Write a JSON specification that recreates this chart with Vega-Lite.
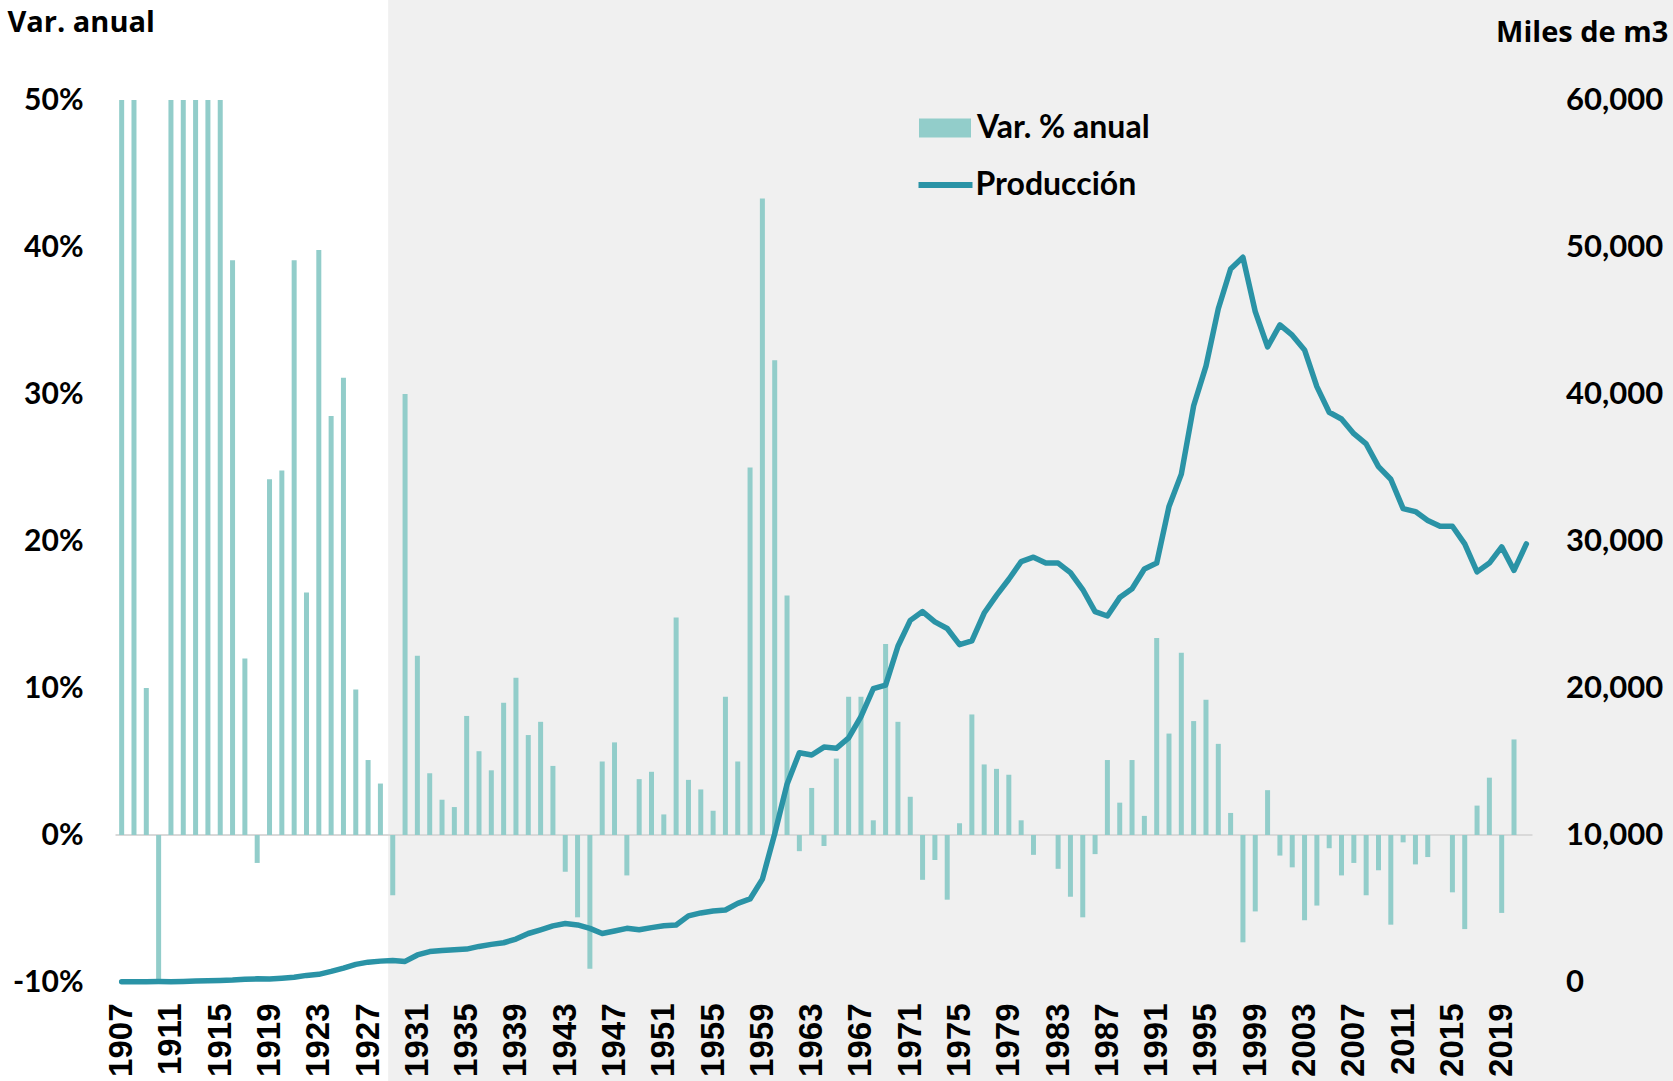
{
  "$schema": "https://vega.github.io/schema/vega-lite/v6.json",
  "width": 1417,
  "height": 882,
  "autosize": {"type": "none"},
  "padding": {"left": 115.5, "top": 100, "right": 140.5, "bottom": 99},
  "background": "#ffffff",
  "config": {
    "view": {"stroke": null},
    "legend": {"padding": 0, "labelLimit": 0}
  },
  "datasets": {
    "periodo": [{"inicio": 1928.63, "fin": 2040}],
    "variacion": [
      {"anio": 1907, "var": 50}, {"anio": 1908, "var": 50}, {"anio": 1909, "var": 10.0}, {"anio": 1910, "var": -9.9},
      {"anio": 1911, "var": 50}, {"anio": 1912, "var": 50}, {"anio": 1913, "var": 50}, {"anio": 1914, "var": 50},
      {"anio": 1915, "var": 50}, {"anio": 1916, "var": 39.1}, {"anio": 1917, "var": 12.0}, {"anio": 1918, "var": -1.9},
      {"anio": 1919, "var": 24.2}, {"anio": 1920, "var": 24.8}, {"anio": 1921, "var": 39.1}, {"anio": 1922, "var": 16.5},
      {"anio": 1923, "var": 39.8}, {"anio": 1924, "var": 28.5}, {"anio": 1925, "var": 31.1}, {"anio": 1926, "var": 9.9},
      {"anio": 1927, "var": 5.1}, {"anio": 1928, "var": 3.5}, {"anio": 1929, "var": -4.1}, {"anio": 1930, "var": 30.0},
      {"anio": 1931, "var": 12.2}, {"anio": 1932, "var": 4.2}, {"anio": 1933, "var": 2.4}, {"anio": 1934, "var": 1.9},
      {"anio": 1935, "var": 8.1}, {"anio": 1936, "var": 5.7}, {"anio": 1937, "var": 4.4}, {"anio": 1938, "var": 9.0},
      {"anio": 1939, "var": 10.7}, {"anio": 1940, "var": 6.8}, {"anio": 1941, "var": 7.7}, {"anio": 1942, "var": 4.7},
      {"anio": 1943, "var": -2.5}, {"anio": 1944, "var": -5.6}, {"anio": 1945, "var": -9.1}, {"anio": 1946, "var": 5.0},
      {"anio": 1947, "var": 6.3}, {"anio": 1948, "var": -2.75}, {"anio": 1949, "var": 3.8}, {"anio": 1950, "var": 4.3},
      {"anio": 1951, "var": 1.4}, {"anio": 1952, "var": 14.8}, {"anio": 1953, "var": 3.75}, {"anio": 1954, "var": 3.1},
      {"anio": 1955, "var": 1.65}, {"anio": 1956, "var": 9.4}, {"anio": 1957, "var": 5.0}, {"anio": 1958, "var": 25.0},
      {"anio": 1959, "var": 43.3}, {"anio": 1960, "var": 32.3}, {"anio": 1961, "var": 16.3}, {"anio": 1962, "var": -1.1},
      {"anio": 1963, "var": 3.2}, {"anio": 1964, "var": -0.75}, {"anio": 1965, "var": 5.2}, {"anio": 1966, "var": 9.4},
      {"anio": 1967, "var": 9.4}, {"anio": 1968, "var": 1.0}, {"anio": 1969, "var": 13.0}, {"anio": 1970, "var": 7.7},
      {"anio": 1971, "var": 2.6}, {"anio": 1972, "var": -3.05}, {"anio": 1973, "var": -1.7}, {"anio": 1974, "var": -4.4},
      {"anio": 1975, "var": 0.8}, {"anio": 1976, "var": 8.2}, {"anio": 1977, "var": 4.8}, {"anio": 1978, "var": 4.5},
      {"anio": 1979, "var": 4.1}, {"anio": 1980, "var": 1.0}, {"anio": 1981, "var": -1.35}, {"anio": 1982, "var": 0.0},
      {"anio": 1983, "var": -2.3}, {"anio": 1984, "var": -4.2}, {"anio": 1985, "var": -5.6}, {"anio": 1986, "var": -1.3},
      {"anio": 1987, "var": 5.1}, {"anio": 1988, "var": 2.2}, {"anio": 1989, "var": 5.1}, {"anio": 1990, "var": 1.3},
      {"anio": 1991, "var": 13.4}, {"anio": 1992, "var": 6.9}, {"anio": 1993, "var": 12.4}, {"anio": 1994, "var": 7.75},
      {"anio": 1995, "var": 9.2}, {"anio": 1996, "var": 6.2}, {"anio": 1997, "var": 1.5}, {"anio": 1998, "var": -7.3},
      {"anio": 1999, "var": -5.2}, {"anio": 2000, "var": 3.05}, {"anio": 2001, "var": -1.4}, {"anio": 2002, "var": -2.2},
      {"anio": 2003, "var": -5.8}, {"anio": 2004, "var": -4.8}, {"anio": 2005, "var": -0.9}, {"anio": 2006, "var": -2.75},
      {"anio": 2007, "var": -1.9}, {"anio": 2008, "var": -4.1}, {"anio": 2009, "var": -2.4}, {"anio": 2010, "var": -6.1},
      {"anio": 2011, "var": -0.5}, {"anio": 2012, "var": -2.0}, {"anio": 2013, "var": -1.5}, {"anio": 2014, "var": 0.0},
      {"anio": 2015, "var": -3.9}, {"anio": 2016, "var": -6.4}, {"anio": 2017, "var": 2.0}, {"anio": 2018, "var": 3.9},
      {"anio": 2019, "var": -5.3}, {"anio": 2020, "var": 6.5}
    ],
    "produccion": [
      {"anio": 1907, "prod": 10}, {"anio": 1908, "prod": 15}, {"anio": 1909, "prod": 25}, {"anio": 1910, "prod": 28},
      {"anio": 1911, "prod": 25}, {"anio": 1912, "prod": 40}, {"anio": 1913, "prod": 60}, {"anio": 1914, "prod": 85},
      {"anio": 1915, "prod": 110}, {"anio": 1916, "prod": 140}, {"anio": 1917, "prod": 190}, {"anio": 1918, "prod": 214},
      {"anio": 1919, "prod": 210}, {"anio": 1920, "prod": 260}, {"anio": 1921, "prod": 320}, {"anio": 1922, "prod": 450},
      {"anio": 1923, "prod": 520}, {"anio": 1924, "prod": 720}, {"anio": 1925, "prod": 940}, {"anio": 1926, "prod": 1200},
      {"anio": 1927, "prod": 1350}, {"anio": 1928, "prod": 1420}, {"anio": 1929, "prod": 1470}, {"anio": 1930, "prod": 1400},
      {"anio": 1931, "prod": 1840}, {"anio": 1932, "prod": 2070}, {"anio": 1933, "prod": 2150}, {"anio": 1934, "prod": 2200},
      {"anio": 1935, "prod": 2240}, {"anio": 1936, "prod": 2420}, {"anio": 1937, "prod": 2560}, {"anio": 1938, "prod": 2670},
      {"anio": 1939, "prod": 2920}, {"anio": 1940, "prod": 3300}, {"anio": 1941, "prod": 3550}, {"anio": 1942, "prod": 3820},
      {"anio": 1943, "prod": 3980}, {"anio": 1944, "prod": 3880}, {"anio": 1945, "prod": 3650}, {"anio": 1946, "prod": 3300},
      {"anio": 1947, "prod": 3470}, {"anio": 1948, "prod": 3650}, {"anio": 1949, "prod": 3550}, {"anio": 1950, "prod": 3700},
      {"anio": 1951, "prod": 3830}, {"anio": 1952, "prod": 3880}, {"anio": 1953, "prod": 4500}, {"anio": 1954, "prod": 4700},
      {"anio": 1955, "prod": 4830}, {"anio": 1956, "prod": 4900}, {"anio": 1957, "prod": 5350}, {"anio": 1958, "prod": 5650},
      {"anio": 1959, "prod": 7000}, {"anio": 1960, "prod": 10080}, {"anio": 1961, "prod": 13450}, {"anio": 1962, "prod": 15600},
      {"anio": 1963, "prod": 15440}, {"anio": 1964, "prod": 15980}, {"anio": 1965, "prod": 15900}, {"anio": 1966, "prod": 16600},
      {"anio": 1967, "prod": 18050}, {"anio": 1968, "prod": 19950}, {"anio": 1969, "prod": 20200}, {"anio": 1970, "prod": 22840},
      {"anio": 1971, "prod": 24600}, {"anio": 1972, "prod": 25200}, {"anio": 1973, "prod": 24500}, {"anio": 1974, "prod": 24050},
      {"anio": 1975, "prod": 22950}, {"anio": 1976, "prod": 23200}, {"anio": 1977, "prod": 25100}, {"anio": 1978, "prod": 26300},
      {"anio": 1979, "prod": 27400}, {"anio": 1980, "prod": 28600}, {"anio": 1981, "prod": 28900}, {"anio": 1982, "prod": 28500},
      {"anio": 1983, "prod": 28500}, {"anio": 1984, "prod": 27850}, {"anio": 1985, "prod": 26700}, {"anio": 1986, "prod": 25200},
      {"anio": 1987, "prod": 24900}, {"anio": 1988, "prod": 26150}, {"anio": 1989, "prod": 26750}, {"anio": 1990, "prod": 28100},
      {"anio": 1991, "prod": 28500}, {"anio": 1992, "prod": 32350}, {"anio": 1993, "prod": 34550}, {"anio": 1994, "prod": 39200},
      {"anio": 1995, "prod": 41900}, {"anio": 1996, "prod": 45800}, {"anio": 1997, "prod": 48500}, {"anio": 1998, "prod": 49300},
      {"anio": 1999, "prod": 45600}, {"anio": 2000, "prod": 43200}, {"anio": 2001, "prod": 44700}, {"anio": 2002, "prod": 44000},
      {"anio": 2003, "prod": 43000}, {"anio": 2004, "prod": 40500}, {"anio": 2005, "prod": 38760}, {"anio": 2006, "prod": 38300},
      {"anio": 2007, "prod": 37300}, {"anio": 2008, "prod": 36600}, {"anio": 2009, "prod": 35060}, {"anio": 2010, "prod": 34200},
      {"anio": 2011, "prod": 32200}, {"anio": 2012, "prod": 32000}, {"anio": 2013, "prod": 31400}, {"anio": 2014, "prod": 31000},
      {"anio": 2015, "prod": 31000}, {"anio": 2016, "prod": 29800}, {"anio": 2017, "prod": 27900}, {"anio": 2018, "prod": 28500},
      {"anio": 2019, "prod": 29600}, {"anio": 2020, "prod": 28000}, {"anio": 2021, "prod": 29800}
    ]
  },
  "layer": [
    {
      "data": {"name": "periodo"},
      "mark": {"type": "rect", "color": "#f0f0f0", "clip": false},
      "encoding": {
        "x": {
          "field": "inicio", "type": "quantitative", "scale": {"domain": [1906.5, 2021.5], "nice": false, "zero": false, "padding": 0},
          "axis": {
            "values": [1907, 1911, 1915, 1919, 1923, 1927, 1931, 1935, 1939, 1943, 1947, 1951, 1955, 1959, 1963, 1967, 1971, 1975, 1979, 1983, 1987, 1991, 1995, 1999, 2003, 2007, 2011, 2015, 2019],
            "format": "d", "title": null, "labelAngle": -90, "labelFont": "Liberation Sans", "labelFontSize": 33, "labelFontWeight": "bold",
            "labelColor": "#000000", "labelPadding": 21, "domain": false, "ticks": false, "grid": false,
            "labelFlush": false, "labelOverlap": false, "zindex": 2
          }
        },
        "x2": {"field": "fin"},
        "y": {"datum": 70, "type": "quantitative", "scale": {"domain": [-10, 50], "nice": false}, "axis": null},
        "y2": {"datum": -30}
      }
    },
    {
      "data": {"name": "periodo"},
      "mark": {"type": "rule", "color": "#d9d9d9", "strokeWidth": 2},
      "encoding": {
        "y": {"datum": 0, "type": "quantitative", "scale": {"domain": [-10, 50], "nice": false}, "axis": null}
      }
    },
    {
      "data": {"name": "variacion"},
      "mark": {"type": "bar", "width": 5, "clip": true},
      "encoding": {
        "x": {
          "field": "anio", "type": "quantitative", "scale": {"domain": [1906.5, 2021.5], "nice": false, "zero": false, "padding": 0},
          "axis": {
            "values": [1907, 1911, 1915, 1919, 1923, 1927, 1931, 1935, 1939, 1943, 1947, 1951, 1955, 1959, 1963, 1967, 1971, 1975, 1979, 1983, 1987, 1991, 1995, 1999, 2003, 2007, 2011, 2015, 2019],
            "format": "d", "title": null, "labelAngle": -90, "labelFont": "Liberation Sans", "labelFontSize": 33, "labelFontWeight": "bold",
            "labelColor": "#000000", "labelPadding": 21, "domain": false, "ticks": false, "grid": false,
            "labelFlush": false, "labelOverlap": false, "zindex": 2
          }
        },
        "y": {
          "field": "var", "type": "quantitative",
          "scale": {"domain": [-10, 50], "nice": false},
          "axis": {
            "orient": "left", "values": [-10, 0, 10, 20, 30, 40, 50], "labelExpr": "datum.value + '%'",
            "grid": false, "domain": false, "ticks": false, "labelPadding": 32.5, "zindex": 2,
            "labelFont": "Lato", "labelFontSize": 30, "labelFontWeight": "bold", "labelColor": "#000000",
            "title": "Var. anual", "titleAngle": 0, "titleAlign": "left", "titleBaseline": "alphabetic",
            "titleX": -108.5, "titleY": -69, "titleFont": "Open Sans", "titleFontSize": 29, "titleFontWeight": "bold", "titleColor": "#000000"
          }
        },
        "fill": {
          "datum": "Var. % anual", "type": "nominal",
          "scale": {"range": ["#92cdca"]},
          "legend": {
            "orient": "none", "legendX": 803.5, "legendY": 2, "title": null, "padding": 0,
            "symbolType": "M-1,-0.365L1,-0.365L1,0.365L-1,0.365Z", "symbolSize": 2704, "symbolStrokeWidth": 0, "symbolOpacity": 1,
            "labelFont": "Lato", "labelFontSize": 32, "labelFontWeight": "bold", "labelColor": "#000000", "labelOffset": 6, "labelLimit": 0
          }
        }
      }
    },
    {
      "data": {"name": "produccion"},
      "mark": {"type": "line", "strokeWidth": 5.5, "strokeCap": "round", "strokeJoin": "round"},
      "encoding": {
        "x": {
          "field": "anio", "type": "quantitative", "scale": {"domain": [1906.5, 2021.5], "nice": false, "zero": false, "padding": 0},
          "axis": {
            "values": [1907, 1911, 1915, 1919, 1923, 1927, 1931, 1935, 1939, 1943, 1947, 1951, 1955, 1959, 1963, 1967, 1971, 1975, 1979, 1983, 1987, 1991, 1995, 1999, 2003, 2007, 2011, 2015, 2019],
            "format": "d", "title": null, "labelAngle": -90, "labelFont": "Liberation Sans", "labelFontSize": 33, "labelFontWeight": "bold",
            "labelColor": "#000000", "labelPadding": 21, "domain": false, "ticks": false, "grid": false,
            "labelFlush": false, "labelOverlap": false, "zindex": 2
          }
        },
        "y": {
          "field": "prod", "type": "quantitative",
          "scale": {"domain": [0, 60000], "nice": false},
          "axis": {
            "orient": "right", "values": [0, 10000, 20000, 30000, 40000, 50000, 60000], "labelExpr": "format(datum.value, ',')",
            "grid": false, "domain": false, "ticks": false, "labelPadding": 33, "labelAlign": "left", "zindex": 2,
            "labelFont": "Lato", "labelFontSize": 31, "labelFontWeight": "bold", "labelColor": "#000000",
            "title": "Miles de m3", "titleAngle": 0, "titleAlign": "right", "titleBaseline": "alphabetic",
            "titleX": 135.3, "titleY": -58.3, "titleFont": "Open Sans", "titleFontSize": 29, "titleFontWeight": "bold", "titleColor": "#000000"
          }
        },
        "stroke": {
          "datum": "Producción", "type": "nominal",
          "scale": {"range": ["#2a93a6"]},
          "legend": {
            "orient": "none", "legendX": 800, "legendY": 55, "title": null, "padding": 0,
            "symbolType": "stroke", "symbolSize": 2916, "symbolStrokeWidth": 6,
            "labelFont": "Lato", "labelFontSize": 32, "labelFontWeight": "bold", "labelColor": "#000000", "labelOffset": 0, "labelLimit": 0
          }
        }
      }
    }
  ],
  "resolve": {"scale": {"y": "independent"}}
}
